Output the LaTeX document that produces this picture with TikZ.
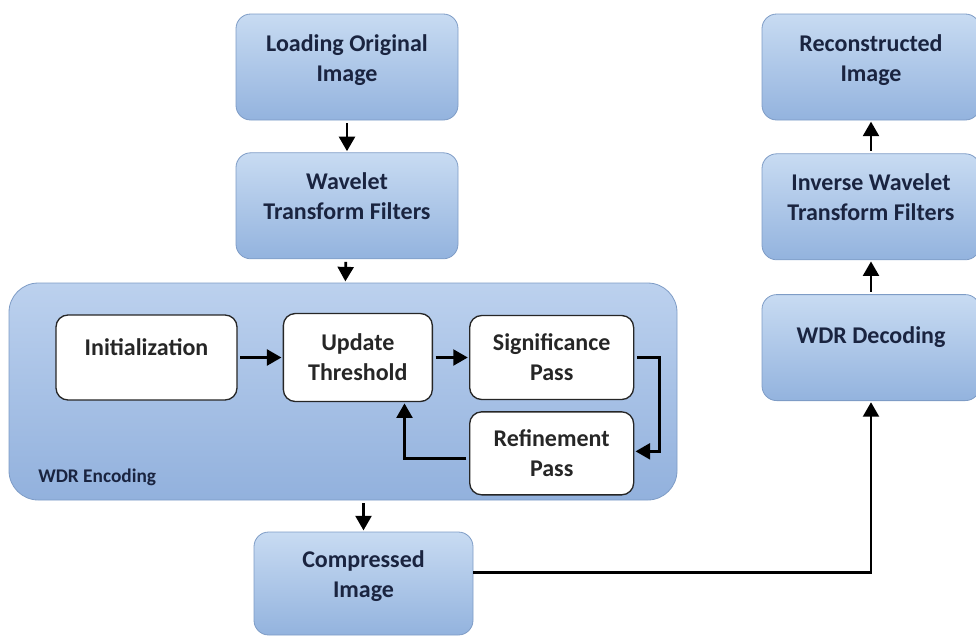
\documentclass[tikz,border=0pt]{standalone}
\usepackage{fontspec}
\setmainfont{Carlito}
\usetikzlibrary{arrows,positioning}
\definecolor{boxtop}{HTML}{C8DBF2}
\definecolor{boxbot}{HTML}{93B3DE}
\definecolor{boxline}{HTML}{7E9CC6}
\definecolor{outtop}{HTML}{BCD1EE}
\definecolor{outbot}{HTML}{92B1DD}
\definecolor{navy}{HTML}{1A2440}

\tikzset{
  bluebox/.style={draw=boxline, line width=0.6pt, top color=boxtop, bottom color=boxbot,
    rounded corners=11pt, align=center, text=navy,
    font=\fontsize{18}{22.5}\selectfont\bfseries,
    minimum width=166.5pt, minimum height=79.5pt, text depth=14pt},
  whitebox/.style={draw=black!85, line width=1pt, fill=white, rounded corners=9pt,
    align=center, text=black!85, font=\fontsize{18}{22.5}\selectfont\bfseries},
  arr/.style={-triangle 60, line width=2pt, shorten <=2pt, shorten >=1pt}
}

\begin{document}
\begin{tikzpicture}[x=0.75pt,y=-0.75pt]
  \useasboundingbox (0,0) rectangle (976,637);

  % encoder side
  \node[bluebox]  (load) at (347,67)           {Loading Original\\Image};
  \node[bluebox]  (wave) [below=24pt of load]  {Wavelet\\Transform Filters};

  \node[draw=boxline, line width=0.6pt, top color=outtop, bottom color=outbot,
        rounded corners=22pt, minimum width=501pt, minimum height=162.75pt]
        (enc) at (343,391.5) {};
  \node[text=navy, font=\fontsize{14.5}{17}\selectfont\bfseries, anchor=west, inner sep=0pt]
        (enclabel) at (38,477) {WDR Encoding};

  \node[whitebox, minimum width=135.75pt, minimum height=63.75pt, text depth=16pt]
        (init) at (146.5,357.5)            {Initialization};
  \node[whitebox, minimum width=111.75pt, minimum height=66pt]
        (upd)  [right=33.75pt of init]     {Update\\Threshold};
  \node[whitebox, minimum width=123pt, minimum height=63pt]
        (sig)  [right=27pt of upd]         {Significance\\Pass};
  \node[whitebox, minimum width=123pt, minimum height=62.25pt]
        (ref)  [below=8.25pt of sig]       {Refinement\\Pass};

  \node[bluebox, minimum width=164.25pt, minimum height=77.25pt]
        (comp) at (363.5,583.5)            {Compressed\\Image};

  % decoder side
  \node[bluebox, minimum width=163.5pt] (rec)  at (871,67)          {Reconstructed\\Image};
  \node[bluebox, minimum width=163.5pt] (inv)  [below=24.75pt of rec] {Inverse Wavelet\\Transform Filters};
  \node[bluebox, minimum width=163.5pt, text depth=19pt]
        (dec)  [below=25.5pt of inv]       {WDR Decoding};

  % connectors
  \draw[arr] (load) -- (wave);
  \draw[arr] (wave) -- (enc);
  \draw[arr] (init) -- (upd);
  \draw[arr] (upd) -- (sig);
  \draw[arr] (sig.east) -- ++(18.75pt,0) |- ([yshift=1.5pt]ref.east);
  \draw[arr] ([yshift=-4pt]ref.west) -| ([xshift=35pt]upd.south);
  \draw[arr] (comp.north |- enc.south) -- (comp.north);
  \draw[arr, shorten <=0pt] ([yshift=8.5pt]comp.east) -| (dec.south);
  \draw[arr] (dec) -- (inv);
  \draw[arr] (inv) -- (rec);
\end{tikzpicture}
\end{document}
